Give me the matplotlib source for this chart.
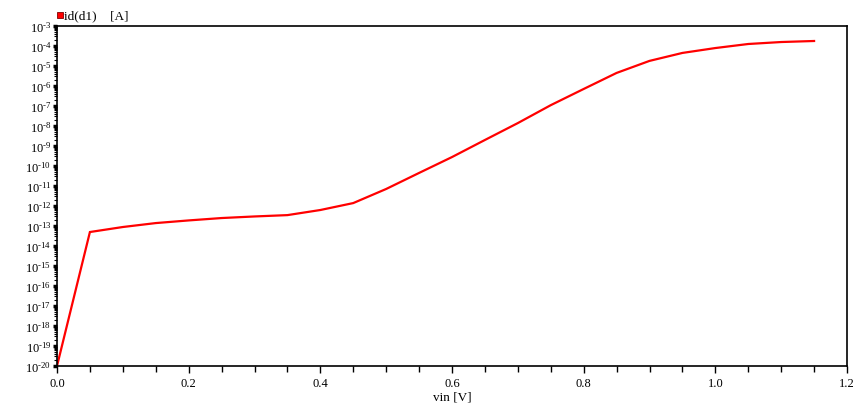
#!/usr/bin/env python3
"""Diode current id(d1) vs vin, log scale (SPICE-style waveform plot)."""

import numpy as np
import matplotlib
matplotlib.use("Agg")
import matplotlib.pyplot as plt
from matplotlib.patches import Rectangle
from matplotlib.ticker import FixedLocator, MultipleLocator, FuncFormatter

plt.rcParams.update({"font.family": "Liberation Serif", "font.size": 9,
                     "mathtext.fontset": "custom",
                     "mathtext.rm": "Liberation Serif",
                     "mathtext.it": "Liberation Serif:italic"})

# sweep points (V) and diode current (A)
vin = [0.0, 0.05, 0.10, 0.15, 0.20, 0.25, 0.30, 0.35, 0.40, 0.45, 0.50, 0.55,
       0.60, 0.65, 0.70, 0.75, 0.80, 0.85, 0.90, 0.95, 1.00, 1.05, 1.10, 1.15]
id_d1 = [1.0e-20, 5.0e-14, 8.9e-14, 1.4e-13, 1.9e-13, 2.5e-13, 3.0e-13, 3.5e-13,
         6.3e-13, 1.4e-12, 7.1e-12, 4.5e-11, 2.8e-10, 2.0e-9, 1.4e-8, 1.1e-7,
         7.1e-7, 4.5e-6, 1.8e-5, 4.5e-5, 7.9e-5, 1.26e-4, 1.58e-4, 1.78e-4]

decades = list(range(-20, -2))

fig = plt.figure(figsize=(8.65, 4.10), dpi=100)
ax = fig.add_axes([57 / 865, 43 / 410, 790 / 865, 340 / 410])

ax.plot(vin, id_d1, color="#ff0000", lw=1.6, solid_joinstyle="miter")
ax.set_yscale("log")
ax.set_xlim(0.0, 1.2)
ax.set_ylim(1e-20, 1e-3)

ax.xaxis.set_major_locator(MultipleLocator(0.2))
ax.xaxis.set_minor_locator(MultipleLocator(0.05))
ax.xaxis.set_major_formatter(FuncFormatter(lambda v, p: f"{v:.1f}"))
ax.yaxis.set_major_locator(FixedLocator([10.0 ** d for d in decades]))
ax.yaxis.set_minor_locator(FixedLocator(
    [k * 10.0 ** d for d in decades[:-1] for k in range(2, 10)]))
# plain hyphen in the exponent, as the waveform viewer prints it
ax.yaxis.set_major_formatter(FuncFormatter(
    lambda v, p: f"$10^{{\\text{{{int(round(np.log10(v)))}}}}}$"))

ax.tick_params(axis="x", which="major", length=5, width=1, pad=3, labelsize=9)
ax.tick_params(axis="x", which="minor", length=4, width=1)
ax.tick_params(axis="y", which="major", length=3, width=2.5, pad=1, labelsize=9)
ax.tick_params(axis="y", which="minor", length=2, width=0.8)
for s in ax.spines.values():
    s.set_linewidth(1.2)

ax.set_xlabel("vin [V]", fontsize=9.5, labelpad=1)

# legend entry drawn like the waveform viewer does: square swatch + name
fig.patches.append(Rectangle((57 / 865, 1 - 19 / 410), 6 / 865, 6 / 410,
                             transform=fig.transFigure, facecolor="#ff0000",
                             edgecolor="#800000", lw=0.6))
fig.text(64 / 865, 1 - 16 / 410, "id(d1)    [A]", fontsize=9.5, va="center", ha="left")

fig.savefig("out.png", dpi=100)
